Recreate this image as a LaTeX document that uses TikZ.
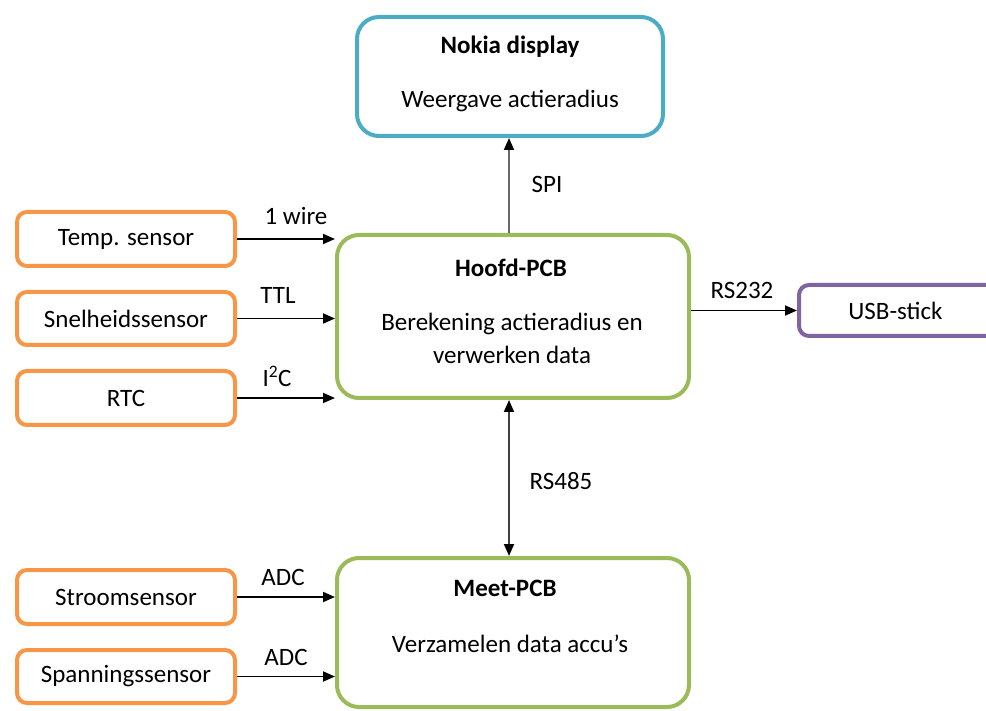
\documentclass[tikz,border=0pt]{standalone}
\usepackage{fontspec}
\setmainfont{Carlito}
\usetikzlibrary{arrows.meta}
\definecolor{oorange}{HTML}{F79646}
\definecolor{ogreen}{HTML}{9BBB59}
\definecolor{oblue}{HTML}{4BACC6}
\definecolor{opurple}{HTML}{8064A2}
\begin{document}
\begin{tikzpicture}[x=1pt,y=-1pt,
  every node/.style={font=\fontsize{25}{30}\selectfont, inner sep=0pt},
  sensorbox/.style={draw=oorange, line width=4pt, rounded corners=10pt,
    minimum width=218pt, minimum height=54pt, fill=white},
  bigbox/.style={draw=#1, line width=4pt, rounded corners=22pt, fill=white},
  usbbox/.style={draw=opurple, line width=4pt, rounded corners=10pt,
    minimum width=201pt, minimum height=51pt, fill=white},
  title/.style={font=\fontsize{25}{30}\selectfont\bfseries},
  lbl/.style={},
  tip/.style={Triangle[length=12pt,width=10pt,color=black]},
  arr/.style={line width=1.8pt, -{Triangle[length=12pt,width=10pt,color=black]}},
  dblarr/.style={line width=1.8pt, {Triangle[length=12pt,width=10pt,color=black]}-{Triangle[length=12pt,width=10pt,color=black]}}
]
\useasboundingbox[fill=white] (0,0) rectangle (986,711);
\begin{scope}
\clip (0,0) rectangle (986,711);

% central boards and display
\node[bigbox=oblue, minimum width=306pt, minimum height=119pt] (nokia) at (510,76.5) {};
\node[bigbox=ogreen, minimum width=352pt, minimum height=163pt] (hoofd) at (513,316.5) {};
\node[bigbox=ogreen, minimum width=352pt, minimum height=149pt] (meet) at (513,632.5) {};

\node[title] (nokiaT) at (510,47) {Nokia display};
\node (nokiaD) at (510,101) {Weergave actieradius};
\node[title] (hoofdT) at (511,268) {Hoofd-PCB};
\node (hoofdD1) at (512,324) {Berekening actieradius en};
\node (hoofdD2) at (512,355) {verwerken data};
\node[title] (meetT) at (505,588) {Meet-PCB};
\node (meetD) at (510,644) {Verzamelen data accu’s};

% sensors
\node[sensorbox] (temp) at (126,239) {Temp. sensor};
\node[sensorbox, minimum height=53pt] (snel) at (126,318.5) {Snelheidssensor};
\node[sensorbox] (rtc) at (126,398) {RTC};
\node[sensorbox] (stroom) at (126,597) {Stroomsensor};
\node[sensorbox, minimum height=53pt] (spanning) at (126,676.5) {Spanningssensor};

% storage
\node[usbbox] (usb) at (899.5,310.5) {\hspace*{-8pt}USB-stick};
\end{scope}

% connections
\draw[arr] (temp.east) -- (temp.east -| hoofd.west);
\draw[arr] (snel.east) -- (snel.east -| hoofd.west);
\draw[arr] (rtc.east) -- (rtc.east -| hoofd.west);
\draw[arr] (stroom.east) -- (stroom.east -| meet.west);
\draw[arr] (spanning.east) -- (spanning.east -| meet.west);
\coordinate (spiS) at (509,0);
\draw[arr, draw=black!60] (spiS |- hoofd.north) -- (spiS |- nokia.south);
\draw[arr] (hoofd.east |- usb.west) -- (usb.west);
\draw[dblarr, draw=black!75] (spiS |- hoofd.south) -- (spiS |- meet.north);

% bus labels
\node[lbl] (l1) at (296,216) {1 wire};
\node[lbl] (l2) at (278,295) {TTL};
\node[lbl] (l3) at (277,376) {I\textsuperscript{2}C};
\node[lbl] (l4) at (283,577) {ADC};
\node[lbl] (l5) at (286,657) {ADC};
\node[lbl] (l6) at (547,184) {SPI};
\node[lbl] (l7) at (742,290) {RS232};
\node[lbl] (l8) at (561,481) {RS485};
\end{tikzpicture}
\end{document}
